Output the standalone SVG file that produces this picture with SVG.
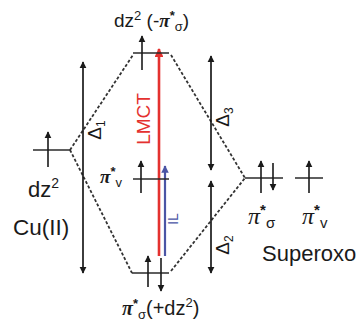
<svg xmlns="http://www.w3.org/2000/svg" width="364" height="321" viewBox="0 0 364 321">
<defs>
<marker id="ah" viewBox="0 0 10 10" refX="9" refY="5" markerWidth="4.2" markerHeight="5" orient="auto-start-reverse" markerUnits="strokeWidth">
<path d="M0,0 L10,5 L0,10 z" fill="#1a1a1a"/>
</marker>
<marker id="ahr" viewBox="0 0 10 10" refX="9" refY="5" markerWidth="3.4" markerHeight="3.4" orient="auto" markerUnits="strokeWidth">
<path d="M0,0 L10,5 L0,10 z" fill="#e4312f"/>
</marker>
<marker id="ahb" viewBox="0 0 10 10" refX="9" refY="5" markerWidth="3.4" markerHeight="3.4" orient="auto" markerUnits="strokeWidth">
<path d="M0,0 L10,5 L0,10 z" fill="#4b55a5"/>
</marker>
</defs>
<style>
.lvl{stroke:#2a2a2a;stroke-width:1.5;fill:none}
.spin{stroke:#1a1a1a;stroke-width:1.6;fill:none;marker-end:url(#ah)}
.dash{stroke:#333;stroke-width:1.8;stroke-dasharray:3 2;fill:none}
.gap{stroke:#1a1a1a;stroke-width:1.7;fill:none;marker-start:url(#ah);marker-end:url(#ah)}
.t{font-family:"Liberation Sans",Arial,sans-serif;fill:#1a1a1a}
.pi{font-family:"Liberation Serif","Times New Roman",serif;font-style:italic;font-weight:bold}
.pin{font-family:"Liberation Serif","Times New Roman",serif;font-style:italic;font-weight:normal}
</style>
<rect width="364" height="321" fill="#ffffff"/>
<g id="connectors">
<line class="dash" x1="70" y1="150" x2="133" y2="55"/>
<line class="dash" x1="70" y1="150" x2="132" y2="273"/>
<line class="dash" x1="171" y1="55" x2="245" y2="178"/>
<line class="dash" x1="171" y1="271" x2="245" y2="178"/>
<line class="gap" x1="83" y1="62" x2="83" y2="273"/>
<line class="gap" x1="211" y1="56" x2="211" y2="170"/>
<line class="gap" x1="211" y1="181" x2="211" y2="273"/>
<line x1="159" y1="256" x2="159" y2="49" stroke="#e4312f" stroke-width="2.6" marker-end="url(#ahr)"/>
<line x1="165" y1="256" x2="165" y2="166" stroke="#4b55a5" stroke-width="2.2" marker-end="url(#ahb)"/>
</g>
<g id="cu-dz2">
<line class="lvl" x1="33" y1="150" x2="70" y2="150"/>
<line class="spin" x1="48" y1="167" x2="48" y2="132"/>
<text class="t" x="28" y="197" font-size="22">dz<tspan font-size="14" dy="-9">2</tspan></text>
<text class="t" x="13" y="235" font-size="22.5">Cu(II)</text>
</g>
<g id="top-level">
<line class="lvl" x1="133" y1="53" x2="169" y2="53"/>
<line class="spin" x1="142" y1="70" x2="142" y2="36"/>
<text class="t" x="114" y="27" font-size="19">dz<tspan font-size="13" dy="-7">2</tspan><tspan dy="7"> (-</tspan><tspan class="pi">π</tspan><tspan font-size="13" dy="-7" font-weight="bold">*</tspan><tspan font-size="13" dy="11">σ</tspan><tspan dy="-4">)</tspan></text>
</g>
<g id="mid-level">
<line class="lvl" x1="133" y1="179" x2="169" y2="179"/>
<line class="spin" x1="141" y1="193" x2="141" y2="161"/>
<text class="t" x="100" y="183" font-size="19"><tspan class="pi">π</tspan><tspan font-size="13" dy="-7" font-weight="bold">*</tspan><tspan font-size="13" dy="11">v</tspan></text>
</g>
<g id="bottom-level">
<line class="lvl" x1="132" y1="273" x2="169" y2="273"/>
<line class="spin" x1="148" y1="287" x2="148" y2="256"/>
<line class="spin" x1="161" y1="258" x2="161" y2="291"/>
<text class="t" x="122" y="315" font-size="20"><tspan class="pi">π</tspan><tspan font-size="13" dy="-7" font-weight="bold">*</tspan><tspan font-size="13" dy="11">σ</tspan><tspan dy="-4">(+dz</tspan><tspan font-size="13" dy="-8">2</tspan><tspan dy="8">)</tspan></text>
</g>
<g id="superoxo-pisigma">
<line class="lvl" x1="245" y1="178" x2="283" y2="178"/>
<line class="spin" x1="261" y1="193" x2="261" y2="161"/>
<line class="spin" x1="273" y1="163" x2="273" y2="190"/>
<text class="t" x="248" y="224" font-size="24"><tspan class="pin">π</tspan><tspan font-size="15" dy="-9" font-weight="bold">*</tspan><tspan font-size="15" dy="13">σ</tspan></text>
</g>
<g id="superoxo-piv">
<line class="lvl" x1="295" y1="178" x2="323" y2="178"/>
<line class="spin" x1="309" y1="193" x2="309" y2="161"/>
<text class="t" x="302" y="224" font-size="24"><tspan class="pin">π</tspan><tspan font-size="15" dy="-9" font-weight="bold">*</tspan><tspan font-size="15" dy="13">v</tspan></text>
<text class="t" x="262" y="261" font-size="22">Superoxo</text>
</g>
<g id="labels">
<text class="t" font-size="19" text-anchor="middle" transform="translate(101,130) rotate(-90)">Δ<tspan font-size="12" dy="4">1</tspan></text>
<text class="t" font-size="19" text-anchor="middle" transform="translate(229,117) rotate(-90)">Δ<tspan font-size="12" dy="4">3</tspan></text>
<text class="t" font-size="19" text-anchor="middle" transform="translate(229,245) rotate(-90)">Δ<tspan font-size="12" dy="4">2</tspan></text>
<text class="t" font-size="19" text-anchor="middle" style="fill:#e4312f" transform="translate(150,119) rotate(-90)">LMCT</text>
<text class="t" font-size="14" text-anchor="middle" style="fill:#4b55a5" transform="translate(178,219) rotate(-90)">IL</text>
</g>
</svg>
